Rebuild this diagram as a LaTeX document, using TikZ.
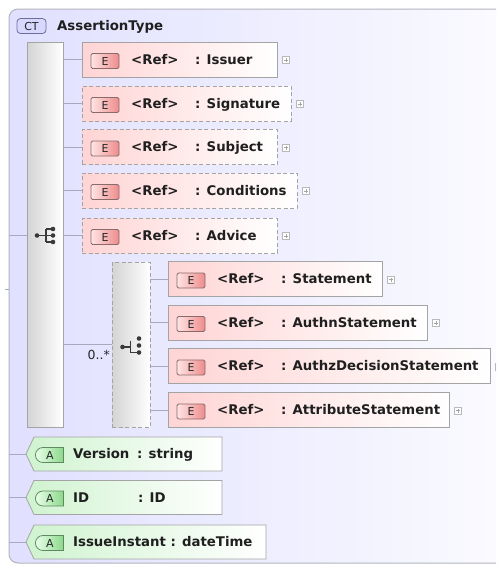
\documentclass[tikz,border=0pt]{standalone}
\usepackage{fontspec}
\setmainfont{DejaVu Sans}
\usetikzlibrary{calc,shapes.misc}
\definecolor{bgl}{HTML}{E0E0FF}
\definecolor{bgr}{HTML}{FCFCFF}
\definecolor{outerline}{HTML}{B4B4C0}
\definecolor{linegray}{HTML}{A8A8C0}
\definecolor{boxline}{HTML}{A4A4A4}
\definecolor{pinkl}{HTML}{FFD4D4}
\definecolor{greenl}{HTML}{CFF3CF}
\definecolor{badgeRl}{HTML}{FFE4E4}
\definecolor{badgeRr}{HTML}{EE8C8C}
\definecolor{badgeRline}{HTML}{8A6A6A}
\definecolor{badgeGl}{HTML}{E8FFE8}
\definecolor{badgeGr}{HTML}{8CD88C}
\definecolor{badgeGline}{HTML}{5F8A5F}
\definecolor{ctfill}{HTML}{D8D8FF}
\definecolor{ctline}{HTML}{6E6E9E}
\definecolor{icon}{HTML}{3A3A3A}
\tikzset{
  conn/.style={draw=linegray, line width=0.8pt},
  ebox/.style={draw=boxline, line width=0.8pt, left color=pinkl, right color=white,
    minimum height=35pt, inner sep=0pt, outer sep=0pt, anchor=west},
  eboxd/.style={ebox, dash pattern=on 4pt off 2.5pt},
  abox/.style={draw=none, minimum height=34pt, inner sep=0pt, outer sep=0pt, anchor=west},
  ashape/.style={draw=boxline, line width=0.8pt, left color=greenl, right color=white},
  txt/.style={anchor=base west, inner sep=0pt, font=\fontsize{13.3}{15}\selectfont\bfseries, text=black!88},
  badgeE/.style={draw=badgeRline, line width=0.8pt, rounded corners=1.5pt, minimum width=28pt,
    minimum height=15pt, inner sep=0pt, left color=badgeRl, right color=badgeRr,
    font=\fontsize{11}{12}\selectfont, text=black!85},
  badgeA/.style={rounded rectangle, rounded rectangle right arc=none, draw=badgeGline, line width=0.8pt,
    minimum width=28pt, minimum height=15pt, inner sep=0pt, left color=badgeGl, right color=badgeGr,
    font=\fontsize{11}{12}\selectfont, text=black!85},
  plusbox/.style={draw=gray!55, fill=white, line width=0.6pt, minimum size=7pt, inner sep=0pt,
    path picture={\draw[gray!70, line width=0.6pt]
      ([xshift=-2pt]path picture bounding box.center) -- ([xshift=2pt]path picture bounding box.center)
      ([yshift=-2pt]path picture bounding box.center) -- ([yshift=2pt]path picture bounding box.center);}},
  seqbar/.style={draw=boxline, line width=0.8pt, left color=black!17, right color=white,
    inner sep=0pt, outer sep=0pt, anchor=north west},
  chbar/.style={seqbar, dash pattern=on 4pt off 2.5pt},
  dot/.style={circle, fill=icon, inner sep=0pt, minimum size=4.6pt},
  iconline/.style={draw=icon, line width=1.1pt},
}
\newcommand\elemrow[6]{%
  \node[#5, minimum width=#4] (#1) at (#2,#3) {};
  \node[badgeE] (#1b) at ($(#1.west)+(23,1.5)$) {E};
  \node[txt] (#1r) at ($(#1.west)+(49,4.8)$) {<Ref>};
  \node[txt] (#1t) at ($(#1.west)+(113,4.8)$) {: #6};
  \node[plusbox] (#1p) at ($(#1.east)+(9,0.5)$) {};
}
\newcommand\attrshape[3]{%
  \node[abox, minimum width=#3] (#1) at (26,#2) {};
  \path[ashape] ($(#1.north west)+(8,0)$) -- (#1.north east) -- (#1.south east)
     -- ($(#1.south west)+(8,0)$) -- (#1.west) -- cycle;
  \node[badgeA] (#1b) at ($(#1.west)+(24,1)$) {A};
}
\begin{document}
\begin{tikzpicture}[x=1pt,y=-1pt]
\path[use as bounding box, fill=white] (0,0) rectangle (496,565);
\clip (0,0) rectangle (496,565);
% outer complex type frame
\draw[draw=outerline, line width=1pt, left color=bgl, right color=bgr, rounded corners=9pt]
  (9,9) rectangle (530,563);
% CT header
\node[draw=ctline, line width=0.8pt, fill=ctfill, rounded corners=3.5pt, minimum width=29pt,
      minimum height=15pt, inner sep=0pt, font=\fontsize{11}{12}\selectfont, text=black!85]
      (ct) at (31.5,26) {CT};
\node[txt] (title) at (57,30.8) {AssertionType};
% sequence bar
\node[seqbar, minimum width=36pt, minimum height=385pt] (seq) at (27,42) {};
% choice bar
\node[chbar, minimum width=38pt, minimum height=165pt] (ch) at (112,262) {};
% elements
\elemrow{eIssuer}{82}{59.5}{195pt}{ebox}{Issuer}
\elemrow{eSignature}{82}{103.5}{209pt}{eboxd}{Signature}
\elemrow{eSubject}{82}{147}{195pt}{eboxd}{Subject}
\elemrow{eConditions}{82}{190.5}{215pt}{eboxd}{Conditions}
\elemrow{eAdvice}{82}{235.5}{195pt}{eboxd}{Advice}
\elemrow{eStatement}{168}{279}{214pt}{ebox}{Statement}
\elemrow{eAuthn}{168}{322.5}{259pt}{ebox}{AuthnStatement}
\elemrow{eAuthz}{168}{366}{322pt}{ebox}{AuthzDecisionStatement}
\elemrow{eAttribute}{168}{410}{281pt}{ebox}{AttributeStatement}
% connectors sequence -> children
\foreach \n in {eIssuer,eSignature,eSubject,eConditions,eAdvice}{
  \draw[conn] (seq.east |- \n.west) -- (\n.west);
}
\draw[conn] (seq.east |- ch.west) -- (ch.west);
\foreach \n in {eStatement,eAuthn,eAuthz,eAttribute}{
  \draw[conn] (ch.east |- \n.west) -- (\n.west);
}
\node[anchor=base east, inner sep=0pt, font=\fontsize{12.5}{14}\selectfont, text=black!85] (mult) at (110,359) {0..*};
% outer connector into sequence
\coordinate (inSeq) at (9,235.5);
\draw[conn] (inSeq) -- (inSeq -| seq.west);
\coordinate (tickA) at (5,289);
\coordinate (tickB) at (9,289);
\draw[conn] (tickA) -- (tickB);
% sequence icon
\coordinate (sq0) at (37,235.5);
\coordinate (sqV) at (46,235.5);
\draw[iconline] (sq0) -- (sqV) ($(sqV)+(0,-6.5)$) -- ($(sqV)+(0,6.5)$)
  ($(sqV)+(0,-6.5)$) -- ++(7,0) (sqV) -- ++(7,0) ($(sqV)+(0,6.5)$) -- ++(7,0);
\node[dot] (sqd0) at (sq0) {};
\node[dot] (sqd1) at ($(sqV)+(7,-6.5)$) {};
\node[dot] (sqd2) at ($(sqV)+(7,0)$) {};
\node[dot] (sqd3) at ($(sqV)+(7,6.5)$) {};
% choice icon
\coordinate (cc0) at (122.5,347);
\coordinate (ccV) at (130.5,347);
\draw[iconline] (cc0) -- (ccV) (130.5,340.5) -- (130.5,352.5) -- (139,352.5);
\node[dot] (ccd0) at (cc0) {};
\node[dot] (ccd1) at (139,338.5) {};
\node[dot] (ccd2) at (139,345.5) {};
\node[dot] (ccd3) at (139,352.5) {};
% attributes
\attrshape{aVersion}{454}{196pt}
\attrshape{aID}{497.5}{196pt}
\attrshape{aIssue}{542}{240pt}
\node[txt] (aVersionn) at (73,458.8) {Version};
\node[txt] (aVersiont) at (137,458.8) {: string};
\node[txt] (aIDn) at (73,502.3) {ID};
\node[txt] (aIDt) at (138,502.3) {: ID};
\node[txt] (aIssuen) at (73,546.8) {IssueInstant : dateTime};
\foreach \n in {aVersion,aID,aIssue}{
  \draw[conn] (9,0 |- \n.west) -- (\n.west);
}
\end{tikzpicture}
\end{document}
